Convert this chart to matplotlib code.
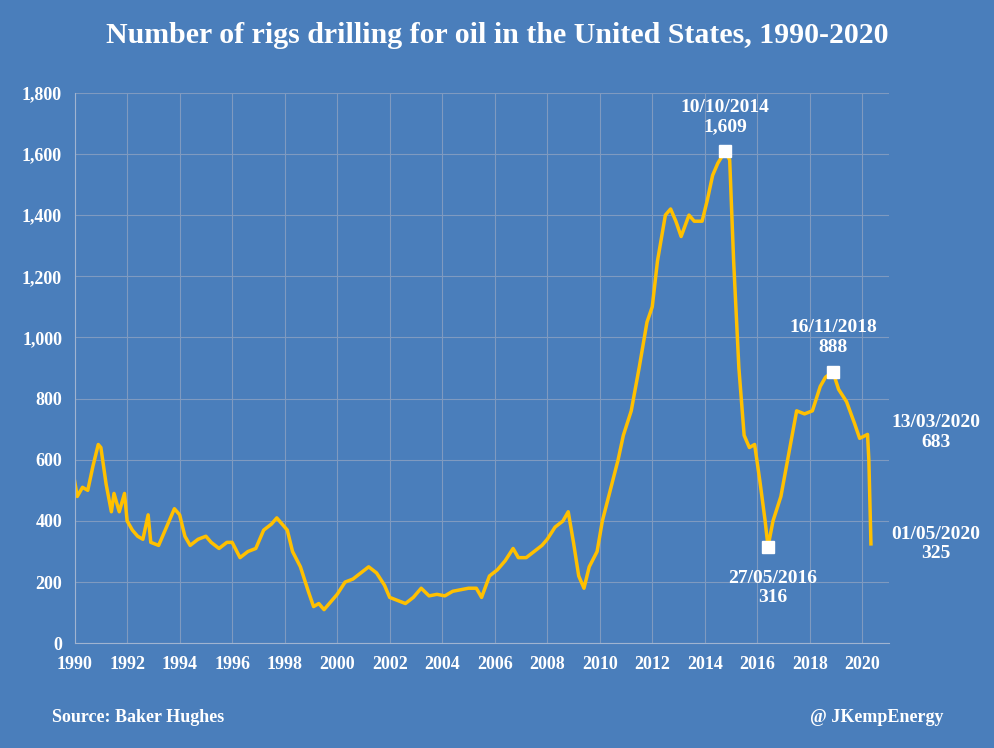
import numpy as np
import matplotlib.pyplot as plt

years = [1990.0, 1990.1, 1990.3, 1990.5, 1990.7, 1990.9, 1991.0, 1991.2, 1991.4, 1991.5, 1991.7, 1991.9,
         1992.0, 1992.2, 1992.4, 1992.6, 1992.8, 1992.9, 1993.2, 1993.5, 1993.8, 1994.0, 1994.2, 1994.4,
         1994.7, 1995.0, 1995.2, 1995.5, 1995.8, 1996.0, 1996.3, 1996.6, 1996.9, 1997.2, 1997.5, 1997.7,
         1997.9, 1998.1, 1998.3, 1998.6, 1998.9, 1999.1, 1999.3, 1999.5, 1999.8, 2000.0, 2000.3, 2000.6,
         2000.9, 2001.2, 2001.5, 2001.8, 2002.0, 2002.3, 2002.6, 2002.9, 2003.2, 2003.5, 2003.8, 2004.1,
         2004.4, 2004.7, 2005.0, 2005.3, 2005.5, 2005.8, 2006.1, 2006.4, 2006.7, 2006.9, 2007.2, 2007.5,
         2007.8, 2008.0, 2008.3, 2008.6, 2008.8, 2009.0, 2009.2, 2009.4, 2009.6, 2009.9, 2010.1, 2010.4,
         2010.7, 2010.9, 2011.2, 2011.5, 2011.8, 2012.0, 2012.2, 2012.5, 2012.7, 2012.9, 2013.1, 2013.4,
         2013.6, 2013.9, 2014.1, 2014.3, 2014.5, 2014.78, 2014.95, 2015.1, 2015.3, 2015.5, 2015.7, 2015.9,
         2016.1, 2016.3, 2016.41, 2016.6, 2016.9, 2017.2, 2017.5, 2017.8, 2018.1, 2018.4, 2018.6, 2018.88,
         2019.1, 2019.4, 2019.7, 2019.9, 2020.2, 2020.25, 2020.33]
rigs = [530, 480, 510, 500, 580, 650, 640, 520, 430, 490, 430, 490,
        400, 370, 350, 340, 420, 330, 320, 380, 440, 420, 350, 320,
        340, 350, 330, 310, 330, 330, 280, 300, 310, 370, 390, 410,
        390, 370, 300, 250, 170, 120, 130, 110, 140, 160, 200, 210,
        230, 250, 230, 190, 150, 140, 130, 150, 180, 155, 160, 155,
        170, 175, 180, 180, 150, 220, 240, 270, 310, 280, 280, 300,
        320, 340, 380, 400, 430, 330, 220, 180, 250, 300, 400, 500,
        600, 680, 760, 900, 1050, 1100, 1250, 1400, 1420, 1380, 1330, 1400,
        1380, 1380, 1450, 1530, 1570, 1609, 1580, 1250, 900, 680, 640, 650,
        530, 400, 316, 400, 480, 620, 760, 750, 760, 840, 870, 888,
        830, 790, 720, 670, 683, 600, 325]

marks_x = [2014.78, 2016.41, 2018.88]
marks_y = [1609, 316, 888]

bg = '#4A7EBB'
plt.rcParams['font.family'] = 'Liberation Serif'
plt.rcParams['font.weight'] = 'bold'

fig = plt.figure(figsize=(9.95, 7.48), dpi=100, facecolor=bg)
ax = fig.add_axes([0.075, 0.14, 0.818, 0.736])
ax.set_facecolor(bg)
ax.plot(years, rigs, color='#FFC000', lw=2.5)
ax.plot(marks_x, marks_y, 's', color='white', ms=8)

ax.set_xlim(1990, 2021.0)
ax.set_ylim(0, 1800)
ax.set_xticks(range(1990, 2021, 2))
ax.set_yticks(range(0, 1801, 200))
ax.set_yticklabels([f'{v:,}' for v in range(0, 1801, 200)])
ax.tick_params(colors='white', labelsize=13, length=0, pad=9)
for lbl in ax.get_xticklabels() + ax.get_yticklabels():
    lbl.set_fontweight('bold')
ax.grid(True, color='#7F9AC0', lw=0.8)
ax.set_axisbelow(True)
for s in ['top', 'right']:
    ax.spines[s].set_visible(False)
for s in ['left', 'bottom']:
    ax.spines[s].set_color('#A0B4D0')

tk = dict(color='white', fontsize=14, fontweight='bold', ha='center', clip_on=False)
ax.text(2014.78, 1660, '10/10/2014\n1,609', va='bottom', **tk)
ax.text(2018.9, 940, '16/11/2018\n888', va='bottom', **tk)
ax.text(2016.6, 240, '27/05/2016\n316', va='top', **tk)
ax.text(2022.8, 690, '13/03/2020\n683', va='center', **tk)
ax.text(2022.8, 325, '01/05/2020\n325', va='center', **tk)

fig.text(0.5, 0.943, 'Number of rigs drilling for oil in the United States, 1990-2020',
         color='white', fontsize=21.5, fontweight='bold', ha='center')
fig.text(0.052, 0.035, 'Source: Baker Hughes', color='white', fontsize=13, fontweight='bold')
fig.text(0.948, 0.035, '@ JKempEnergy', color='white', fontsize=13, fontweight='bold', ha='right')

fig.savefig('out.png', dpi=100, facecolor=bg)
